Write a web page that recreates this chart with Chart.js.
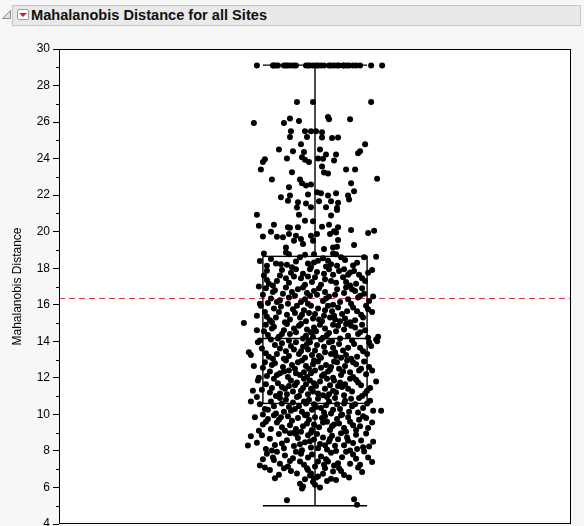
<!DOCTYPE html>
<html>
<head>
<meta charset="utf-8">
<script src="https://cdn.jsdelivr.net/npm/chart.js@4.4.0/dist/chart.umd.min.js"></script>
<style>
  body { margin: 0; background: #f7f7f7; overflow: hidden; width: 584px; height: 526px; position: relative;
         font-family: "Liberation Sans", Arial, sans-serif; }
  #hdr { position: absolute; left: 12px; top: 5px; width: 567px; height: 19px; background: #e9e9e9;
         border: 1px solid #c6c6c6; }
  #hdr .menu { position: absolute; left: 4px; top: 3px; width: 10px; height: 9px; background: #fff;
               border: 1px solid #9a9a9a; border-radius: 2px; }
  #hdr .menu:after { content: ""; position: absolute; left: 1px; top: 3px; border-left: 4px solid transparent;
               border-right: 4px solid transparent; border-top: 4px solid #d0202a; }
  #hdr .ttl { position: absolute; left: 18px; top: 1px; font-weight: bold; font-size: 14.6px; color: #111; }
  #tri { position: absolute; left: 1px; top: 9px; }
  #c { position: absolute; left: 0; top: 0; }
</style>
</head>
<body>
<svg id="tri" width="11" height="11"><polygon points="1.5,9.5 9.5,1.5 9.5,9.5" fill="#e4e4e4" stroke="#8a8a8a" stroke-width="1"/></svg>
<div id="hdr"><span class="menu"></span><span class="ttl">Mahalanobis Distance for all Sites</span></div>
<canvas id="c" width="584" height="540"></canvas>
<script>
// box statistics: lower whisker, Q1, median, Q3, upper whisker
const boxStats = [5.0, 10.6, 14.15, 18.65, 29.12];
const refLine = 16.37;
const yTicks = { min: 4, max: 30, step: 1 };

// points sitting on the top cap (capped distances)
const cappedValue = 29.1;
const cappedJitter = [-58,-42,-41,-39,-37,-31,-29,-27,-24,-21,-19,-9,-7,-5,-2,1,3,6,9,14,16,19,22,24,28,29,32,34,38,41,45,56,67];

// [jitter, distance] above the box
const upperPoints = [
  [-18,27.1],[-2,27.1],[56,27.1],
  [-61,25.95],[-31,25.95],[-25,26.2],[-16,26.06],[13,26.28],[14,26.15],[35,26.15],
  [-24,25.5],[-10,25.5],[-4,25.5],[1,25.5],[7,25.45],
  [-25,25.18],[-8,25.18],[7,25.16],[17,25.13],[23,25.16],
  [-14,24.78],[50,24.78],
  [-36,24.5],[-22,24.41],[-11,24.36],[5,24.5],[21,24.23],[45,24.41],[43,24.29],
  [-50,23.96],[-52,23.81],[-28,24.01],[-13,24.07],[-10,23.94],[-6,23.81],[3,24.01],[8,23.99],[11,24.23],[19,23.9],
  [7,23.57],[-54,23.41],[-23,23.26],[9,23.24],[13,23.19],[31,23.41],[40,23.41],
  [-43,22.86],[-15,22.86],[-13,22.65],[-9,22.53],[-4,22.58],[36,22.65],[62,22.9],[-26,22.43],
  [-34,21.88],[-25,21.98],[-7,22.03],[2,22.16],[6,22.1],[13,21.98],[21,22.1],[33,21.98],[39,22.21],[34,21.76],
  [-27,21.7],[-17,21.61],[-9,21.54],[4,21.66],[16,21.66],[23,21.59],
  [-18,21.32],[-4,21.34],[11,21.34],[22,21.3],
  [-58,20.93],[-16,20.93],[16,20.88],[22,21.19],
  [-56,20.33],[-41,20.38],[-27,20.24],[-25,20.22],[-17,20.24],[-10,20.6],[-2,20.57],[7,20.27],[14,20.38],[23,20.24],[19,20.02],[36,20.09],[53,19.93],[59,20.05],
  [-52,19.74],[-44,20.0],[-38,19.73],[-32,19.69],[-26,19.87],[-19,19.78],[-14,19.6],[-4,19.78],[2,19.87],[15,19.87],[21,19.96],
  [-21,19.5],[-2,19.5],[23,19.54],[-12,19.32],[-29,19.14],[22,19.18],[39,19.27],[9,19.05],[18,19.14],
  [-51,18.81],[-29,18.86],[-26,18.77],[-10,18.74],[-1,18.77],[21,18.77],[18,18.81],[61,18.63]
];

// [jitter, distance] inside the box
const boxPoints = [
  [-48,18.13],[-39,18.26],[-34,18.22],[-28,18.19],[-19,18.37],[-7,18.26],[-1,18.31],[3,18.41],[13,18.41],[16,18.22],[22,18.13],
  [29,17.95],[35,17.77],[-48,17.86],[-44,18.5],[-15,18.6],[8,18.55],[30,18.45],[42,18.3],[49,18.6],[-23,18.05],[38,18.15],[-55,18.4],[-4,18.05],[11,18.1],[26,18.6],
  [-46,17.15],[10,17.4],[-24,17.75],[35,17.05],[-7,17.55],[50,17.3],[-33,17.9],[21,17.2],[-14,17.45],[2,17.8],[44,17.65],[-38,17.3],[14,17.95],[-51,17.6],[28,17.5],[-10,17.1],[-29,17.45],[39,17.85],[-3,17.25],[18,17.65],[-19,17.95],[53,17.75],[-42,17.05],[6,17.1],[31,17.25],[-26,17.2],[24,17.85],[-12,17.7],[47,17.45],[-35,17.6],[0,17.5],[16,17.3],[-21,17.55],[41,17.15],[-48,17.35],[9,17.7],[-5,17.95],[33,17.65],[-56,17.0],[57,17.9],
  [-47,16.1],[11,16.35],[-23,16.7],[36,16.05],[-5,16.5],[49,16.6],[-35,16.25],[22,16.85],[-14,16.15],[4,16.9],[43,16.4],[-29,16.95],[8,16.2],[-52,16.55],[29,16.65],[-10,16.3],[-40,16.8],[18,16.0],[47,16.9],[-1,16.75],[-26,16.4],[33,16.3],[-17,16.85],[2,16.55],[-44,16.35],[25,16.15],[-7,16.05],[40,16.75],[-32,16.6],[14,16.45],[-55,16.05],[31,16.95],[-20,16.5],[10,16.7],[-38,16.15],[54,16.2],[-12,16.95],[20,16.55],[-42,16.7],[-27,16.05],[45,16.5],[-8,16.65],[37,16.85],[-49,16.9],[58,16.45],
  [-45,15.15],[9,15.4],[-22,15.75],[35,15.05],[-6,15.55],[48,15.3],[-34,15.9],[20,15.2],[-13,15.45],[3,15.8],[42,15.65],[-39,15.3],[13,15.95],[-50,15.6],[27,15.5],[-9,15.1],[-28,15.45],[38,15.85],[-2,15.25],[17,15.65],[-18,15.95],[53,15.75],[-43,15.05],[7,15.1],[30,15.25],[-25,15.2],[-54,15.95],[23,15.85],[-11,15.7],[46,15.45],[-36,15.6],[0,15.5],[15,15.3],[-20,15.55],[40,15.15],[-48,15.35],[10,15.7],[-4,15.95],[32,15.65],[-30,15.05],[25,15.1],[-15,15.3],[51,15.95],[-41,15.8],[4,15.2],[19,15.4],[-58,15.4],[57,15.6],
  [-44,14.1],[12,14.35],[-21,14.7],[37,14.05],[-4,14.5],[50,14.6],[-36,14.25],[23,14.85],[-12,14.15],[5,14.9],[43,14.4],[-28,14.95],[8,14.2],[-51,14.55],[29,14.65],[-9,14.3],[-41,14.8],[17,14.0],[47,14.9],[-1,14.75],[-25,14.4],[33,14.3],[-16,14.85],[1,14.55],[-47,14.35],[25,14.15],[-6,14.05],[40,14.75],[-31,14.6],[14,14.45],[-55,14.05],[-2,14.25],[31,14.95],[-19,14.5],[10,14.7],[-37,14.15],[53,14.2],[-14,14.95],[21,14.55],[-43,14.7],[18,14.9],[-26,14.05],[45,14.5],[-8,14.65],[36,14.85],[-49,14.9],[6,14.1],[-33,14.4],[63,14.25],[61,14.1],[-71,15.0],[-58,14.6],
  [-46,13.15],[10,13.4],[-24,13.75],[36,13.05],[-7,13.55],[52,13.3],[-33,13.9],[21,13.2],[-14,13.45],[2,13.8],[45,13.65],[-38,13.3],[14,13.95],[-53,13.6],[28,13.5],[-10,13.1],[-29,13.45],[39,13.85],[-3,13.25],[18,13.65],[-19,13.95],[56,13.75],[-42,13.05],[6,13.1],[31,13.25],[-26,13.2],[-57,13.95],[24,13.85],[-12,13.7],[48,13.45],[-35,13.6],[0,13.5],[16,13.3],[-21,13.55],[42,13.15],[-49,13.35],[9,13.7],[-5,13.95],[33,13.65],[-31,13.05],[26,13.1],[-16,13.3],[54,13.95],[-40,13.8],[4,13.2],[20,13.4],[-64,13.25],[-66,13.4],[62,14.0],[-8,13.85],
  [-48,12.1],[13,12.35],[-23,12.7],[38,12.05],[-6,12.5],[54,12.6],[-35,12.25],[22,12.85],[-15,12.15],[3,12.9],[44,12.4],[-29,12.95],[9,12.2],[-52,12.55],[30,12.65],[-11,12.3],[-40,12.8],[18,12.0],[49,12.9],[-2,12.75],[-26,12.4],[35,12.3],[-17,12.85],[6,12.55],[-45,12.35],[26,12.15],[-8,12.05],[41,12.75],[-32,12.6],[15,12.45],[-56,12.0],[-4,12.25],[32,12.95],[-20,12.5],[11,12.7],[-38,12.15],[51,12.2],[0,12.4],[-13,12.95],[24,12.5],[-43,12.7],[19,12.9],[-27,12.05],[46,12.5],[-9,12.65],[38,12.85],[-50,12.85],[7,12.1],[-31,12.35],[28,12.35],[-19,12.25],[57,12.4],[-1,12.95],[-61,12.65],[16,12.6],
  [-45,11.2],[8,11.05],[-20,11.6],[33,11.4],[-5,11.85],[50,11.15],[-37,11.7],[18,11.3],[-12,11.45],[41,11.9],[-28,11.1],[1,11.55],[25,11.75],[-53,11.35],[-16,11.0],[12,11.95],[-33,11.5],[46,11.6],[-2,11.25],[29,11.05],[-24,11.85],[55,11.45],[-9,11.65],[21,11.2],[-41,11.95],[5,11.8],[37,11.25],[-30,11.4],[15,11.6],[-49,11.65],[-14,11.3],[43,11.75],[-7,11.1],[27,11.5],[-22,11.25],[10,11.4],[-57,11.85],[35,11.95],[-35,11.15],[-1,11.7],[19,11.85],[-18,11.75],[52,11.3],[-43,11.45],[3,11.15],[30,11.65],[-26,11.55],[14,11.1],[-11,11.95],[47,11.0],[-62,11.3],[-4,11.4],[23,11.55],[-39,11.0],[61,11.8],
  [-9,10.6],[-44,10.7],[3,10.85],[-18,10.95],[52,10.6],[44,10.9],[30,10.75],[20,10.9],[-22,10.65],[-6,10.8],[-35,10.9],[14,10.7],[-29,10.8],[-11,10.7],[-58,10.95],[36,10.85],[55,10.75],[-33,10.6],[12,10.95],[29,10.6],[-64,10.7]
];

// [jitter, distance] below the box
const lowerPoints = [
  [-50,10.3],[16,10.05],[37,10.45],[-31,10.15],[25,10.3],[-3,10.25],[11,10.5],[-26,10.4],[-39,10.05],[-13,10.15],[6,10.35],[-55,10.55],[58,10.2],[34,10.15],[-1,10.55],[-47,10.25],[40,10.55],[-16,10.45],[27,10.0],[9,10.1],[48,10.35],[-41,10.45],[22,10.55],[1,10.4],[-24,10.2],[18,10.25],[-8,10.0],[-20,10.3],[43,10.1],[-52,10.0],[66,10.2],
  [-56,9.1],[-12,9.35],[31,9.05],[7,9.8],[-38,9.55],[44,9.7],[-3,9.15],[19,9.45],[-27,9.9],[53,9.25],[-47,9.75],[12,9.6],[-19,9.2],[26,9.95],[-8,9.5],[38,9.4],[-33,9.3],[0,9.85],[-52,9.45],[15,9.15],[-23,9.65],[48,9.9],[-14,9.05],[35,9.6],[-41,9.95],[4,9.3],[22,9.75],[-30,9.1],[57,9.55],[-6,9.7],[29,9.25],[-44,9.2],[10,9.9],[-17,9.8],[41,9.15],[-36,9.7],[-1,9.45],[17,9.35],[-25,9.4],[51,9.8],[-10,9.95],[33,9.85],[-49,9.6],[24,9.5],[-4,9.0],[-60,9.85],[45,9.35],[-21,9.0],[8,9.55],[-34,9.85],
  [-67,8.3],[-64,8.8],[54,8.24],[48,8.2],[42,8.1],[-58,8.45],[-49,8.1],[-45,8.66],[-40,8.32],[-36,8.92],[-31,8.14],[-28,8.58],[-25,8.97],[-21,8.27],[-17,8.71],[-13,8.04],[-10,8.47],[-7,8.86],[-4,8.19],[-1,8.63],[2,8.93],[5,8.38],[8,8.74],[12,8.08],[14,8.52],[17,8.83],[20,8.28],[23,8.64],[26,8.97],[29,8.31],[32,8.73],[35,8.02],[38,8.44],[41,8.88],[46,8.57],[51,8.95],[58,8.5],[-53,8.86],[-43,8.02],[-33,8.41],[-19,8.93],[-5,8.53],[10,8.31],[21,8.0],[33,8.56],[-15,8.36],[3,8.15],[15,8.66],
  [-42,7.64],[-41,7.5],[-22,7.6],[-15,7.42],[-7,7.64],[3,7.42],[13,7.42],[23,7.33],[41,7.57],[53,7.64],[49,7.97],[-55,7.2],[-48,7.85],[-35,7.3],[-30,7.75],[-27,7.15],[-19,7.95],[-11,7.25],[-3,7.8],[0,7.15],[6,7.7],[9,7.25],[16,7.9],[19,7.2],[27,7.65],[31,7.95],[35,7.3],[38,7.8],[45,7.25],[57,7.4],[-52,7.55],[-38,7.95],[-8,7.05],[24,7.05],[-25,7.45],[11,7.55],[-14,7.85],
  [-1,6.5],[1,6.55],[-40,6.5],[16,6.48],[21,6.41],[29,6.68],[-18,6.77],[-7,6.96],[-4,6.77],[10,7.05],[18,6.87],[-31,7.05],[-50,7.09],[43,7.09],[-5,6.65],[-2,6.3],[3,6.6],[-24,6.9],[26,6.9],[-10,6.45],[8,6.75],[-36,6.7],[34,6.55],[-45,6.95],[47,6.85],[12,6.35],[-15,6.2],[0,6.15],
  [-12,6.05],[-13,5.95],[5,6.0],[-28,5.3],[39,5.35],[42,5.05]
];

const allPoints = upperPoints.concat(boxPoints, lowerPoints, cappedJitter.map(j => [j, cappedValue]))
  .map(p => ({ x: p[0], y: p[1] }));

const boxPlugin = {
  id: 'boxPlugin',
  beforeDraw(chart) {
    const { ctx, chartArea: a } = chart;
    ctx.save();
    ctx.fillStyle = '#fff';
    ctx.fillRect(a.left, a.top, a.right - a.left, a.bottom - a.top);
    ctx.restore();
  },
  beforeDatasetsDraw(chart, args, opts) {
    const { ctx, chartArea: a, scales: { x, y } } = chart;
    const [lo, q1, med, q3, hi] = boxStats;
    const xl = x.getPixelForValue(-opts.halfWidth), xr = x.getPixelForValue(opts.halfWidth), xc = x.getPixelForValue(0);
    ctx.save();
    ctx.beginPath();
    ctx.rect(a.left, a.top, a.right - a.left - 1, a.bottom - a.top);
    ctx.clip();
    // reference line
    ctx.strokeStyle = '#d23a46';
    ctx.lineWidth = 1;
    ctx.setLineDash([6, 4]);
    const yr = Math.round(y.getPixelForValue(refLine)) + 0.5;
    ctx.beginPath(); ctx.moveTo(a.left, yr); ctx.lineTo(a.right - 1, yr); ctx.stroke();
    ctx.setLineDash([]);
    // box and whiskers
    ctx.strokeStyle = '#000';
    ctx.lineWidth = 1.4;
    const py = v => y.getPixelForValue(v);
    ctx.strokeRect(xl, py(q3), xr - xl, py(q1) - py(q3));
    ctx.beginPath();
    ctx.moveTo(xl, py(med)); ctx.lineTo(xr, py(med));
    ctx.moveTo(xc, py(q3)); ctx.lineTo(xc, py(hi));
    ctx.moveTo(xc, py(q1)); ctx.lineTo(xc, py(lo));
    ctx.moveTo(xl, py(hi)); ctx.lineTo(xr, py(hi));
    ctx.moveTo(xl, py(lo)); ctx.lineTo(xr, py(lo));
    ctx.stroke();
    ctx.restore();
  },
  afterDraw(chart) {
    const { ctx, chartArea: a, scales: { y } } = chart;
    ctx.save();
    ctx.strokeStyle = '#000';
    ctx.lineWidth = 1;
    y.ticks.forEach(t => {
      if (t.value % 2 !== 0) {
        const p = Math.round(y.getPixelForValue(t.value)) + 0.5;
        ctx.beginPath(); ctx.moveTo(a.left - 3, p); ctx.lineTo(a.left, p); ctx.stroke();
      }
    });
    ctx.strokeRect(a.left + 0.5, a.top + 0.5, a.right - a.left - 1, a.bottom - a.top - 1);
    ctx.restore();
  }
};

new Chart(document.getElementById('c'), {
  type: 'scatter',
  data: {
    datasets: [{
      label: 'Mahalanobis Distance',
      data: allPoints,
      backgroundColor: '#000',
      borderWidth: 0,
      pointRadius: 3
    }]
  },
  options: {
    responsive: false,
    animation: false,
    devicePixelRatio: 1,
    layout: { padding: { top: 49, right: 13, bottom: 16, left: 0 } },
    plugins: { legend: { display: false }, tooltip: { enabled: false }, boxPlugin: { halfWidth: 52 } },
    scales: {
      x: { type: 'linear', min: -255.5, max: 255.5, display: false },
      y: {
        min: yTicks.min, max: yTicks.max,
        afterFit(s) { s.width = 59; },
        border: { display: false },
        grid: {
          drawOnChartArea: false, drawTicks: true, tickLength: 6,
          tickColor: c => (c.tick && c.tick.value % 2 === 0) ? '#000' : 'rgba(0,0,0,0)'
        },
        ticks: {
          stepSize: yTicks.step, autoSkip: false, padding: 3, color: '#000',
          font: { size: 12, family: '"Liberation Sans", Arial, sans-serif' },
          callback: v => v % 2 === 0 ? v : ''
        },
        title: {
          display: true, text: 'Mahalanobis Distance', color: '#000',
          font: { size: 12, family: '"Liberation Sans", Arial, sans-serif' },
          padding: { top: 10, bottom: 0 }
        }
      }
    }
  },
  plugins: [boxPlugin]
});
</script>
</body>
</html>
